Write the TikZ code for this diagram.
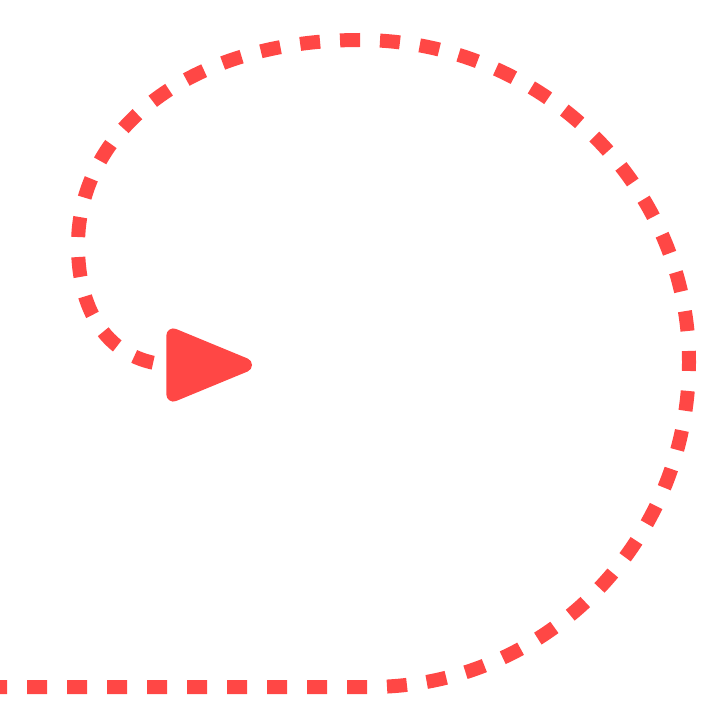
\documentclass[tikz,border=0pt]{standalone}
\usetikzlibrary{arrows.meta}
\definecolor{lred}{RGB}{255,71,69}
\tikzset{spiral/.style={draw=lred, line width=7pt, dash pattern=on 10pt off 10pt, dash phase=6.5pt, -{Triangle[length=49pt,width=38pt,round]}}}
\begin{document}
\begin{tikzpicture}[x=0.5pt,y=-0.5pt]
\useasboundingbox (0,0) rectangle (701,701);
\coordinate (s) at (0,687);
\coordinate (b) at (370,687);
\coordinate (r) at (689,362);
\coordinate (t) at (360,40);
\coordinate (l) at (78,245);
\coordinate (e) at (252,365);
\draw[spiral] (s) -- (b) .. controls (548,687) and (689,540) .. (r)
  .. controls (689,184) and (540,40) .. (t)
  .. controls (190,40) and (78,130) .. (l)
  .. controls (78,325) and (120,365) .. (175,365) -- (e);
\end{tikzpicture}
\end{document}
